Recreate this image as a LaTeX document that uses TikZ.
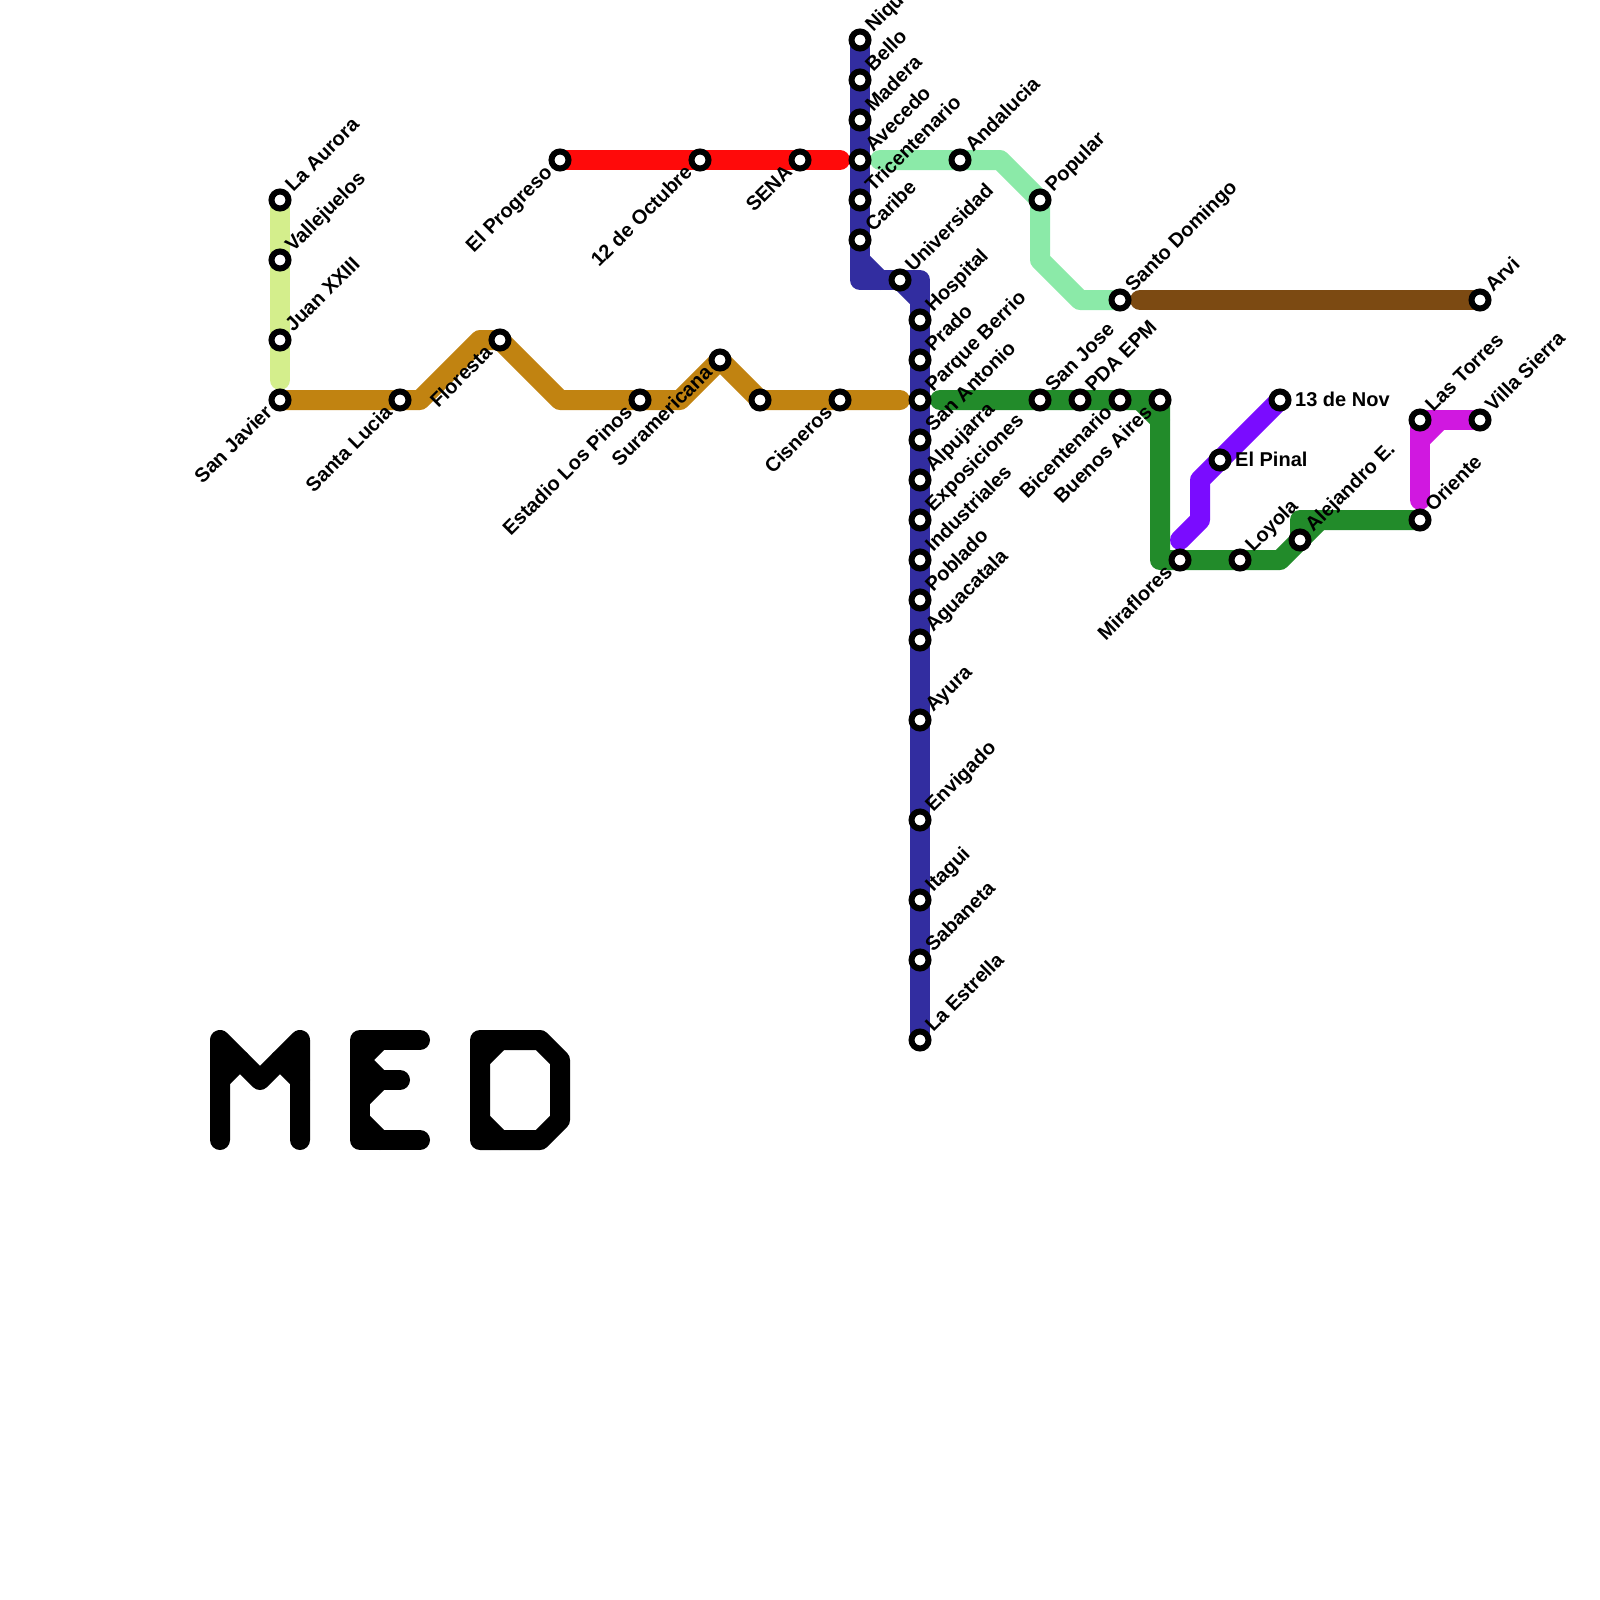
\documentclass[tikz,border=0pt]{standalone}
\usepackage{fontspec}
\setmainfont{Liberation Sans}
\definecolor{cblue}{HTML}{322DA0}
\definecolor{corange}{HTML}{C18311}
\definecolor{cmint}{HTML}{8BEAA8}
\definecolor{cred}{HTML}{FF0A0A}
\definecolor{cbrown}{HTML}{7C4A12}
\definecolor{cgreen}{HTML}{228B2A}
\definecolor{clime}{HTML}{D4EE8C}
\definecolor{cpurple}{HTML}{7A0CFF}
\definecolor{cmag}{HTML}{D018E0}
\newcommand{\stn}[3]{\coordinate (#1) at (#2,#3);}
\newcommand{\mk}[1]{\node[station] (s#1) at (#1) {};}
\newcommand{\lur}[2]{\mk{#1}\node[lab,xshift=13.3pt,yshift=7pt,anchor=base west,rotate=45] (l#1) at (#1) {#2};}
\newcommand{\lll}[2]{\mk{#1}\node[lab,xshift=-6.5pt,yshift=-13.5pt,anchor=base east,rotate=45] (l#1) at (#1) {#2};}
\newcommand{\lrr}[2]{\mk{#1}\node[lab,anchor=base west,xshift=15pt,yshift=-6pt] (l#1) at (#1) {#2};}
\tikzset{
  station/.style={circle,draw=black,fill=white,line width=6pt,minimum size=17pt,inner sep=0pt},
  lab/.style={inner sep=0pt,text=black,font=\fontsize{20}{20}\selectfont\bfseries},
  metro/.style={line width=20pt,line cap=round,line join=round},
}
\begin{document}
\begin{tikzpicture}[x=1pt,y=-1pt]
\useasboundingbox (0,0) rectangle (1600,1600);
\fill[white] (0,0) rectangle (1600,1600);
% stations
\stn{niq}{860}{40}\stn{bel}{860}{80}\stn{mad}{860}{120}\stn{ave}{860}{160}\stn{tri}{860}{200}\stn{car}{860}{240}
\stn{uni}{900}{280}\stn{hos}{920}{320}\stn{pra}{920}{360}\stn{par}{920}{400}\stn{san}{920}{440}\stn{alp}{920}{480}
\stn{exp}{920}{520}\stn{ind}{920}{560}\stn{pob}{920}{600}\stn{agu}{920}{640}\stn{ayu}{920}{720}\stn{env}{920}{820}
\stn{ita}{920}{900}\stn{sab}{920}{960}\stn{est}{920}{1040}
\stn{and}{960}{160}\stn{pop}{1040}{200}\stn{sdo}{1120}{300}\stn{arv}{1480}{300}
\stn{pro}{560}{160}\stn{oct}{700}{160}\stn{sen}{800}{160}
\stn{aur}{280}{200}\stn{val}{280}{260}\stn{jua}{280}{340}\stn{jav}{280}{400}
\stn{luc}{400}{400}\stn{flo}{500}{340}\stn{pin}{640}{400}\stn{sur}{720}{360}\stn{noname}{760}{400}\stn{cis}{840}{400}
\stn{jos}{1040}{400}\stn{pda}{1080}{400}\stn{bic}{1120}{400}\stn{bue}{1160}{400}
\stn{mir}{1180}{560}\stn{loy}{1240}{560}\stn{ale}{1300}{540}\stn{ori}{1420}{520}
\stn{tor}{1420}{420}\stn{vil}{1480}{420}\stn{pnl}{1220}{460}\stn{nov}{1280}{400}
% lines
\draw[metro,clime] (aur) -- (280,380);
\draw[metro,corange] (jav) -- (luc) -- (420,400) -- (480,340) -- (flo) -- (560,400) -- (pin) -- (680,400) -- (sur) -- (noname) -- (cis) -- (900,400);
\draw[metro,cred] (pro) -- (oct) -- (sen) -- (840,160);
\draw[metro,cmint] (880,160) -- (and) -- (1000,160) -- (pop) -- (1040,260) -- (1080,300) -- (sdo);
\draw[metro,cbrown] (1140,300) -- (arv);
\draw[metro,cblue] (niq) -- (860,280) -- (uni) -- (920,280) -- (est);
\draw[metro,cblue] (860,260) -- (880,280);
\draw[metro,cblue] (900,280) -- (920,300);
\draw[metro,cgreen] (940,400) -- (jos) -- (pda) -- (bic) -- (bue) -- (1160,560) -- (mir) -- (loy) -- (1280,560) -- (ale) -- (1300,520) -- (ori);
\draw[metro,cgreen] (1140,400) -- (1160,420);
\draw[metro,cgreen] (ale) -- (1320,520);
\draw[metro,cpurple] (1180,540) -- (1200,520) -- (1200,480) -- (pnl) -- (nov);
\draw[metro,cmag] (1420,500) -- (tor) -- (vil);
\draw[metro,cmag] (1420,440) -- (1440,420);
% logo
\draw[metro,black] (220,1140) -- (220,1040) -- (260,1080) -- (300,1040) -- (300,1140);
\draw[metro,black] (220,1080) -- (240,1060);
\draw[metro,black] (300,1080) -- (280,1060);
\draw[metro,black] (420,1040) -- (360,1040) -- (360,1140) -- (420,1140);
\draw[metro,black] (360,1080) -- (400,1080);
\draw[metro,black] (360,1060) -- (380,1040);
\draw[metro,black] (360,1060) -- (380,1080) -- (360,1100);
\draw[metro,black] (360,1120) -- (380,1140);
\draw[metro,black] (480,1040) -- (540,1040) -- (560,1060) -- (560,1120) -- (540,1140) -- (480,1140) -- cycle;
\draw[metro,black] (480,1060) -- (500,1040);
\draw[metro,black] (480,1120) -- (500,1140);
% station markers and labels
\lur{niq}{Niquia}\lur{bel}{Bello}\lur{mad}{Madera}\lur{ave}{Avecedo}\lur{tri}{Tricentenario}\lur{car}{Caribe}
\lur{uni}{Universidad}\lur{hos}{Hospital}\lur{pra}{Prado}\lur{par}{Parque Berrio}\lur{san}{San Antonio}\lur{alp}{Alpujarra}
\lur{exp}{Exposiciones}\lur{ind}{Industriales}\lur{pob}{Poblado}\lur{agu}{Aguacatala}\lur{ayu}{Ayura}\lur{env}{Envigado}
\lur{ita}{Itagui}\lur{sab}{Sabaneta}\lur{est}{La Estrella}
\lur{and}{Andalucia}\lur{pop}{Popular}\lur{sdo}{Santo Domingo}\lur{arv}{Arvi}
\lll{pro}{El Progreso}\lll{oct}{12 de Octubre}\lll{sen}{SENA}
\lur{aur}{La Aurora}\lur{val}{Vallejuelos}\lur{jua}{Juan XXIII}\lll{jav}{San Javier}
\lll{luc}{Santa Lucia}\lll{flo}{Floresta}\lll{pin}{Estadio Los Pinos}\lll{sur}{Suramericana}\mk{noname}\lll{cis}{Cisneros}
\lur{jos}{San Jose}\lur{pda}{PDA EPM}\lll{bic}{Bicentenario}\lll{bue}{Buenos Aires}
\lll{mir}{Miraflores}\lur{loy}{Loyola}\lur{ale}{Alejandro E.}\lur{ori}{Oriente}
\lur{tor}{Las Torres}\lur{vil}{Villa Sierra}\lrr{pnl}{El Pinal}\lrr{nov}{13 de Nov}
\end{tikzpicture}
\end{document}
